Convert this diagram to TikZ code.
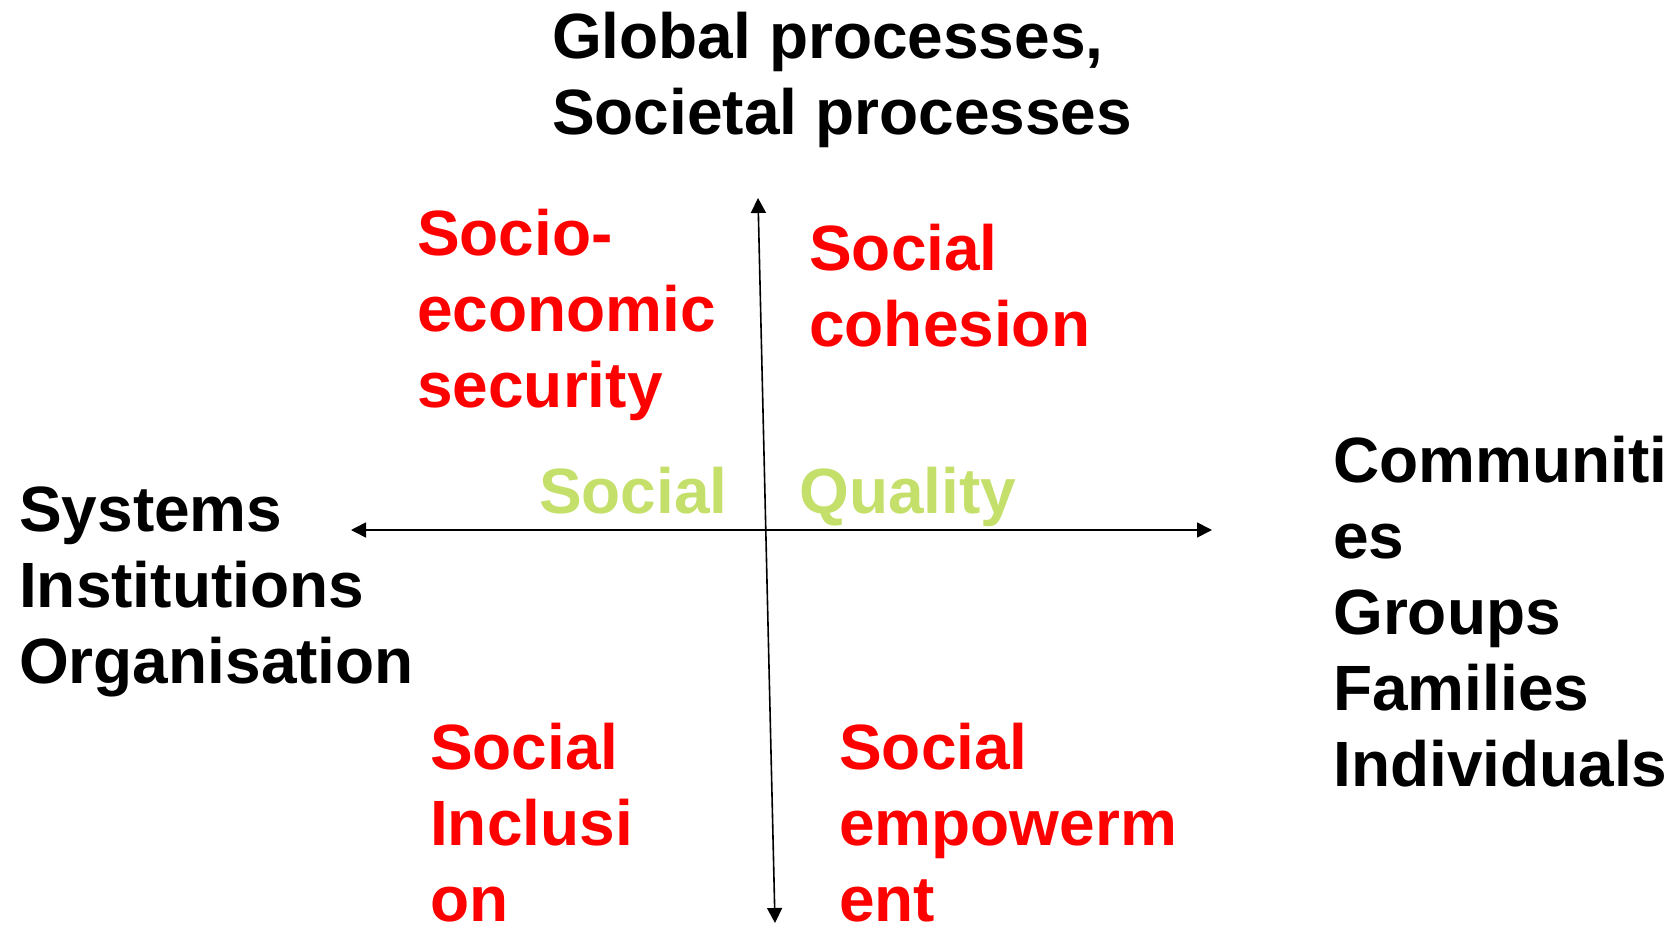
\documentclass[tikz,border=0pt]{standalone}
\usepackage{fontspec}
\setmainfont{Liberation Sans}
\usetikzlibrary{arrows.meta}
\definecolor{qred}{RGB}{255,0,0}
\definecolor{qgreen}{RGB}{196,223,106}
\tikzset{
  lbl/.style={anchor=base west, inner sep=0pt, align=left,
    font=\fontsize{64}{76}\selectfont\bfseries},
  blk/.style={lbl, text=black},
  redlbl/.style={lbl, text=qred},
  greenlbl/.style={lbl, text=qgreen},
  axis/.style={line width=1.6pt, {Triangle[length=15pt,width=15pt]}-{Triangle[length=15pt,width=15pt]}}
}
\begin{document}
\begin{tikzpicture}[x=1pt,y=-1pt]
\useasboundingbox (0,0) rectangle (1675,925);
% base anchor = baseline of the last line
\node[blk] (title) at (552,135) {Global processes,\\Societal processes};
\node[redlbl] (ses) at (417,407) {Socio-\\economic\\security};
\node[redlbl] (coh) at (809,346) {Social\\cohesion};
\node[greenlbl] (sq1) at (539,513) {Social};
\node[greenlbl] (sq2) at (799,513) {Quality};
\node[blk] (sys) at (19,683) {Systems\\Institutions\\Organisation};
\node[blk] (com) at (1333,786) {Communiti\\es\\Groups\\Families\\Individuals};
\node[redlbl] (inc) at (430,921) {Social\\Inclusi\\on};
\node[redlbl] (emp) at (839,921) {Social\\empowerm\\ent};
\coordinate (vtop) at (758,198);
\coordinate (vbot) at (775,923);
\coordinate (hl) at (351,530);
\coordinate (hr) at (1212,530);
\draw[axis] (vbot) -- (vtop);
\draw[axis] (hl) -- (hr);
\end{tikzpicture}
\end{document}
